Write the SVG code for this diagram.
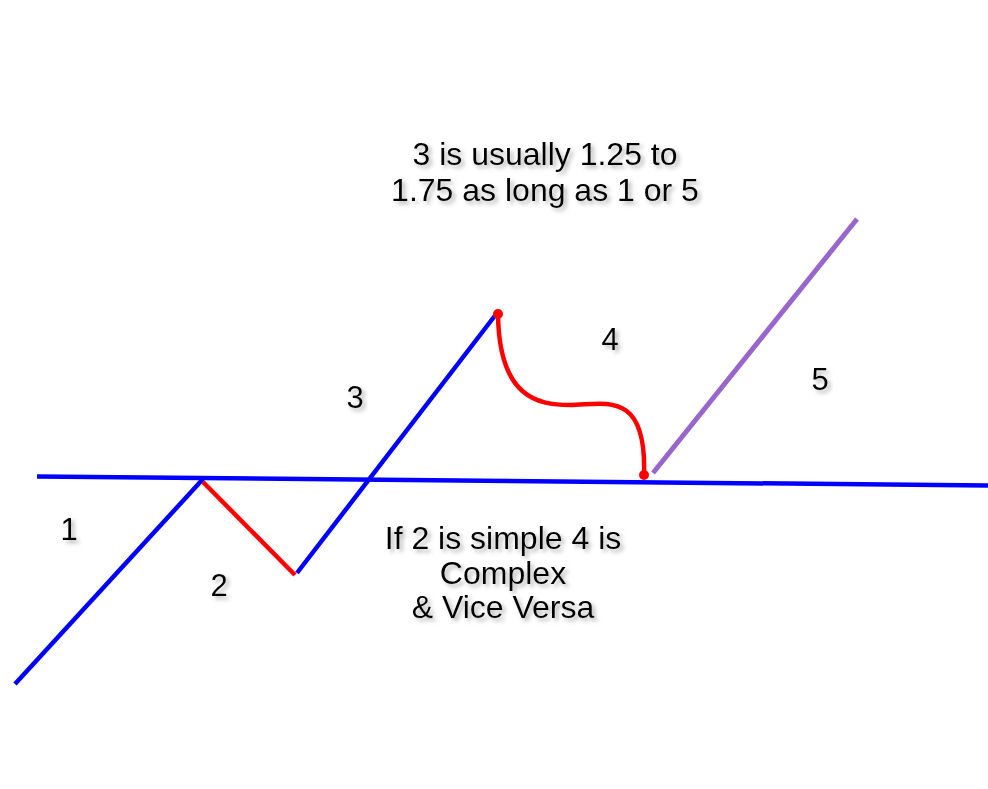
<svg xmlns="http://www.w3.org/2000/svg" width="988" height="789" viewBox="0 0 988 789">
  <defs>
    <filter id="shadow" x="-10%" y="-20%" width="130%" height="160%">
      <feDropShadow dx="3" dy="3" stdDeviation="2" flood-color="#808080" flood-opacity="0.6"/>
    </filter>
  </defs>
  <style>
    .lbl { font-family: "Liberation Sans", Arial, sans-serif; font-size: 31px; fill: #000; text-anchor: middle; filter: url(#shadow); }
    .note { font-size: 32px; }
    .blue { stroke: #0000FF; stroke-width: 4.5; fill: none; }
    .red { stroke: #FF0000; stroke-width: 4.5; fill: none; }
    .purple { stroke: #9966CC; stroke-width: 5; fill: none; }
    .dot { fill: #FF0000; }
  </style>
  <rect width="988" height="789" fill="#FFFFFF"/>

  <g id="baseline">
    <line class="blue" x1="37" y1="476.5" x2="988" y2="485.5"/>
  </g>

  <g id="wave1">
    <line class="blue" x1="15" y1="684" x2="203" y2="479"/>
  </g>
  <g id="wave2">
    <line class="red" x1="203" y1="482" x2="295" y2="575"/>
  </g>
  <g id="wave3">
    <line class="blue" x1="297" y1="573" x2="497" y2="313"/>
  </g>
  <g id="wave4">
    <path class="red" d="M498,314 C499,398 538,405 570,405 C603,405 647,388 644,475"/>
    <circle class="dot" cx="498" cy="314" r="5"/>
    <circle class="dot" cx="644" cy="475" r="5"/>
  </g>
  <g id="wave5">
    <line class="purple" x1="653" y1="473" x2="857" y2="219"/>
  </g>

  <g id="labels">
    <text class="lbl" x="69" y="540">1</text>
    <text class="lbl" x="219" y="596">2</text>
    <text class="lbl" x="355" y="408">3</text>
    <text class="lbl" x="610" y="350">4</text>
    <text class="lbl" x="820" y="390">5</text>
  </g>

  <g id="note-top">
    <text class="lbl note" x="545" y="165">3 is usually 1.25 to</text>
    <text class="lbl note" x="545" y="201">1.75 as long as 1 or 5</text>
  </g>

  <g id="note-bottom">
    <text class="lbl note" x="503" y="549">If 2 is simple 4 is</text>
    <text class="lbl note" x="503" y="584">Complex</text>
    <text class="lbl note" x="503" y="618">&amp; Vice Versa</text>
  </g>
</svg>
